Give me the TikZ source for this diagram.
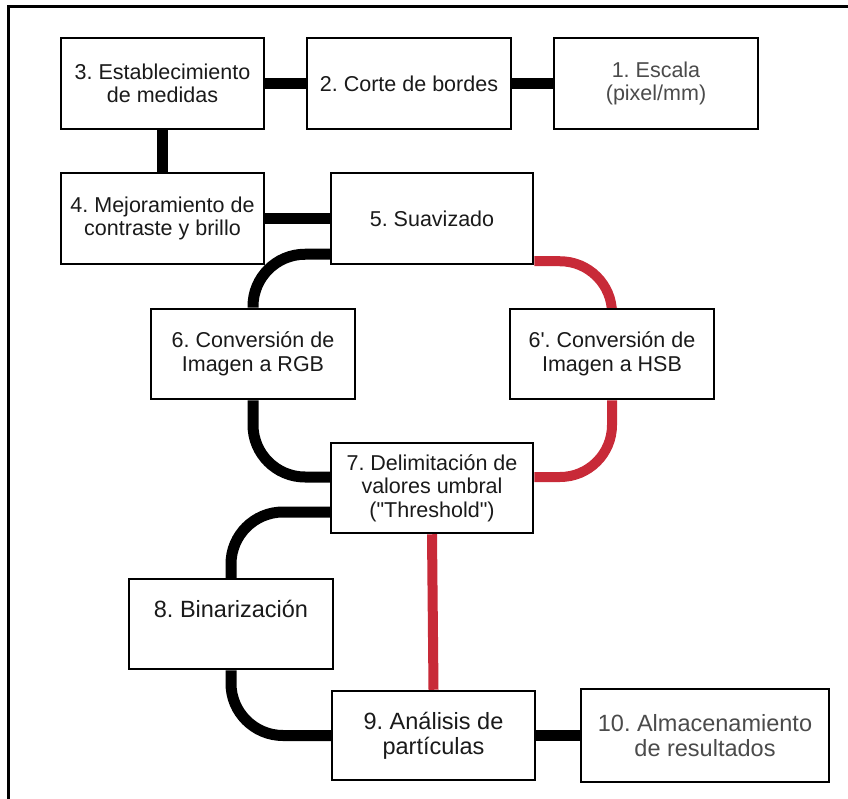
\documentclass[tikz,border=0pt]{standalone}
\usepackage{fontspec}
\setmainfont{Liberation Sans}[Ligatures=TeXOff]
\usetikzlibrary{backgrounds}
\frenchspacing
\definecolor{linkred}{RGB}{200,42,56}
\definecolor{txtdark}{RGB}{26,26,26}
\definecolor{txtgray}{RGB}{75,75,75}
\begin{document}
\begin{tikzpicture}[x=1pt,y=-1pt,
  box/.style={draw=black,line width=2.5pt,fill=white,rectangle,align=center,
    inner sep=0pt,minimum height=91pt,text=txtdark,
    font=\fontsize{21.5}{23.5}\selectfont},
  bigbox/.style={box,font=\fontsize{23.5}{25}\selectfont},
  conn/.style={line width=11pt,black},
  rconn/.style={line width=10pt,linkred},
  arc/.style={rounded corners=52pt}
]
\useasboundingbox (0,0) rectangle (848,799);
\draw[line width=3pt] (8.5,801) -- (8.5,6.5) -- (850,6.5);

\path
  (162.5,83.5) node[box,minimum width=203pt] (b3) {3. Establecimiento\\de medidas}
  (409,83.5)   node[box,minimum width=204pt] (b2) {2. Corte de bordes}
  (656,83.5)   node[box,minimum width=204pt,text=txtgray] (b1) {1. Escala\\(pixel/mm)}
  (162.5,218.5) node[box,minimum width=203pt] (b4) {4. Mejoramiento de\\contraste y brillo}
  (432,218.5)  node[box,minimum width=202pt] (b5) {5. Suavizado}
  (253,354)    node[box,minimum width=204pt,minimum height=90pt] (b6) {6. Conversión de\\Imagen a RGB}
  (612,354)    node[box,minimum width=204pt,minimum height=90pt] (b6p) {6'. Conversión de\\Imagen a HSB}
  (432,488)    node[box,minimum width=202pt,minimum height=90pt] (b7) {7. Delimitación de\\valores umbral\\("Threshold")}
  (231,624)    node[bigbox,minimum width=204pt,minimum height=90pt] (b8) {8. Binarización\\[6pt]}
  (433.5,735.5) node[bigbox,minimum width=203pt,minimum height=89pt] (b9) {9. Análisis de\\partículas}
  (705,735.5)  node[bigbox,minimum width=248pt,minimum height=93pt,text=txtgray] (b10) {10. Almacenamiento\\de resultados};

\begin{scope}[on background layer]
\draw[conn] (b3) -- (b2);
\draw[conn] (b2) -- (b1);
\draw[conn] (b3) -- (b4);
\draw[conn] (b4) -- (b5);
\draw[conn] (b9) -- (b10);
\draw[conn,arc] ([yshift=11pt]b5.south west) -| (b6.north);
\draw[rconn,arc] ([yshift=4pt]b5.south east) -| (b6p.north);
\draw[conn,arc] (b6.south) |- ([yshift=11pt]b7.west);
\draw[rconn,arc] (b6p.south) |- ([yshift=11pt]b7.east);
\draw[conn,arc] ([yshift=-24pt]b7.west) -| (b8.north);
\draw[conn,arc] (b8.south) |- (b9.west);
\draw[rconn] (b7.south) -- (b9.north);
\end{scope}
\end{tikzpicture}
\end{document}
